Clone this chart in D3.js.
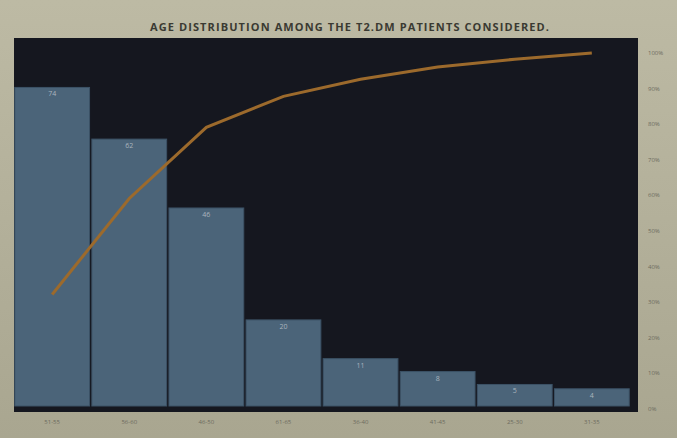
<!DOCTYPE html>
<html>
<head>
<meta charset="utf-8">
<script src="https://cdn.jsdelivr.net/npm/d3@7"></script>
<style>
  body { margin: 0; background: #aeab95; }
  svg { display: block; }
</style>
</head>
<body>
<div id="chart"></div>
<script>
// Age groups, patient counts, right axis ticks
const ageGroups = ["51-55", "56-60", "46-50", "61-65", "36-40", "41-45", "25-30", "31-35"];
const patients = [74, 62, 46, 20, 11, 8, 5, 4];
const pctTicks = [0, 0.1, 0.2, 0.3, 0.4, 0.5, 0.6, 0.7, 0.8, 0.9, 1];

const width = 677;
const height = 438;
const margin = { top: 38, right: 39, bottom: 26, left: 14 };

const svg = d3.select("#chart")
    .append("svg")
    .attr("width", width)
    .attr("height", height);

// background, a bit lighter at the top like the photo
const grad = svg.append("defs").append("linearGradient")
    .attr("id", "bg").attr("x1", 0).attr("y1", 0).attr("x2", 0).attr("y2", 1);
grad.append("stop").attr("offset", "0%").attr("stop-color", "#bdbaa4");
grad.append("stop").attr("offset", "100%").attr("stop-color", "#a9a690");
svg.append("rect").attr("width", width).attr("height", height).attr("fill", "url(#bg)");

// title
svg.append("text")
    .attr("x", 350)
    .attr("y", 31)
    .attr("text-anchor", "middle")
    .attr("font-family", "Open Sans, sans-serif")
    .attr("font-weight", "bold")
    .attr("font-size", 11)
    .attr("letter-spacing", 1.1)
    .attr("fill", "#3a3a32")
    .text("AGE DISTRIBUTION AMONG THE T2.DM PATIENTS CONSIDERED.");

// plot area
const plotRight = width - margin.right;
const plotBottom = height - margin.bottom;
svg.append("rect")
    .attr("x", margin.left)
    .attr("y", margin.top)
    .attr("width", plotRight - margin.left)
    .attr("height", plotBottom - margin.top)
    .attr("fill", "#15171f");

const x = d3.scaleBand()
    .domain(ageGroups)
    .range([margin.left, plotRight - 8])
    .paddingInner(0.03)
    .paddingOuter(0.01);

const yBar = d3.scaleLinear()
    .domain([0, 82])
    .range([plotBottom - 6, 53]);

const yPct = d3.scaleLinear()
    .domain([0, 1])
    .range([plotBottom - 3, 53]);

// bars
svg.selectAll(".bar")
    .data(patients)
    .enter()
    .append("rect")
    .attr("x", (d, i) => x(ageGroups[i]))
    .attr("y", d => yBar(d))
    .attr("width", x.bandwidth())
    .attr("height", d => yBar(0) - yBar(d))
    .attr("fill", "#4b6479")
    .attr("stroke", "#3c5266")
    .attr("stroke-width", 1);

// bar value labels
svg.selectAll(".val")
    .data(patients)
    .enter()
    .append("text")
    .attr("x", (d, i) => x(ageGroups[i]) + x.bandwidth() / 2)
    .attr("y", d => yBar(d) + 9)
    .attr("text-anchor", "middle")
    .attr("font-family", "Open Sans, sans-serif")
    .attr("font-size", 7)
    .attr("fill", "#aab4bd")
    .text(d => d);

// cumulative line
const total = d3.sum(patients);
const cumulative = d3.cumsum(patients).map(v => v / total);
const line = d3.line()
    .x((d, i) => x(ageGroups[i]) + x.bandwidth() / 2)
    .y(d => yPct(d));

svg.append("path")
    .datum(cumulative)
    .attr("d", line)
    .attr("fill", "none")
    .attr("stroke", "#9c6a2c")
    .attr("stroke-width", 3);

// right axis labels
svg.selectAll(".pct")
    .data(pctTicks)
    .enter()
    .append("text")
    .attr("x", plotRight + 10)
    .attr("y", d => yPct(d) + 2)
    .attr("font-family", "Open Sans, sans-serif")
    .attr("font-size", 6)
    .attr("fill", "#6d6b5e")
    .text(d => Math.round(d * 100) + "%");

// category labels
svg.selectAll(".cat")
    .data(ageGroups)
    .enter()
    .append("text")
    .attr("x", d => x(d) + x.bandwidth() / 2)
    .attr("y", plotBottom + 12)
    .attr("text-anchor", "middle")
    .attr("font-family", "Open Sans, sans-serif")
    .attr("font-size", 6)
    .attr("fill", "#6d6b5e")
    .text(d => d);
</script>
</body>
</html>
